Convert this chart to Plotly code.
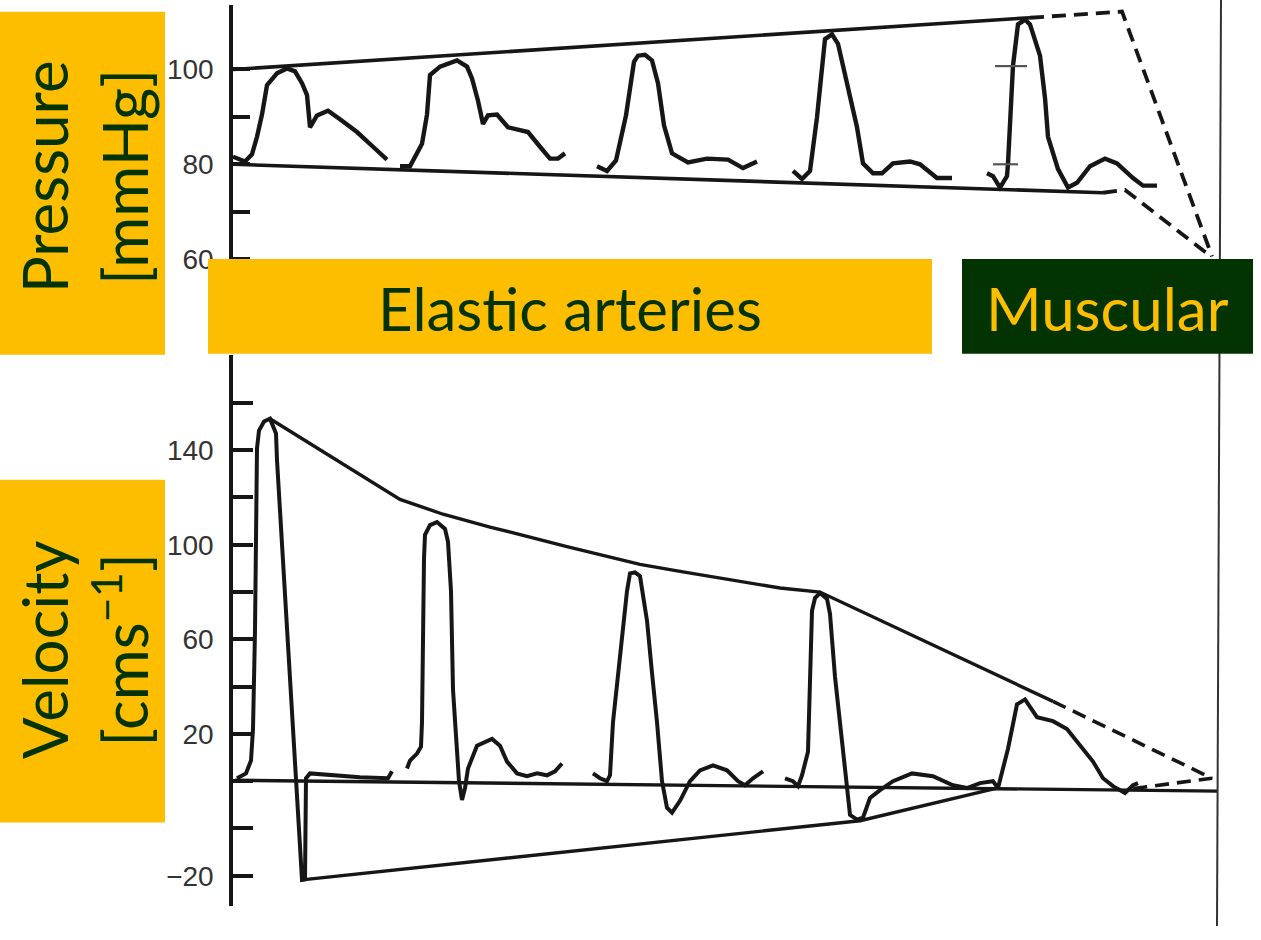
import plotly.graph_objects as go

# ---------------- data (t: arbitrary position along the record) ----------------
# Pressure [mmHg] - five pulses
p1_t = [0, 12, 19, 24, 29, 34, 44, 54, 62, 69, 74, 77, 84, 95, 107, 124, 140, 154]
p1_v = [81.6, 80.6, 82.1, 85.8, 90.5, 96.7, 99.2, 100.2, 99.6, 97.1, 94.6, 87.8, 90.3, 91.3, 89.5, 86.8, 83.7, 81.0]
p2_t = [167, 177, 189, 194, 197, 207, 224, 234, 239, 245, 250, 255, 264, 269, 275, 287, 295, 307, 317, 325, 332]
p2_v = [79.6, 79.6, 84.3, 90.5, 98.8, 100.6, 101.9, 100.6, 98.1, 93.4, 88.5, 90.3, 90.5, 89.3, 87.8, 87.2, 86.8, 83.7, 81.2, 81.2, 82.3]
p3_t = [364, 374, 383, 393, 401, 405, 412, 419, 425, 431, 439, 455, 474, 495, 510, 524]
p3_v = [79.6, 78.6, 80.8, 90.3, 101.6, 102.9, 103.1, 101.9, 97.1, 88.2, 82.3, 80.4, 81.2, 81.0, 79.2, 80.6]
p4_t = [560, 569, 577, 584, 592, 599, 605, 614, 624, 630, 640, 649, 660, 677, 687, 704, 719]
p4_v = [78.6, 76.9, 78.6, 89.9, 106.4, 107.4, 105.4, 96.7, 87.8, 80.2, 78.1, 78.1, 80.2, 80.6, 80.0, 77.1, 77.1]
p5_t = [754, 760, 767, 774, 775, 780, 785, 792, 797, 807, 812, 815, 825, 835, 844, 857, 872, 884, 900, 910, 924]
p5_v = [78.1, 77.5, 75.1, 77.5, 80.2, 100.8, 109.5, 110.5, 109.5, 102.9, 94.0, 85.8, 79.0, 75.1, 76.1, 79.6, 81.2, 80.2, 77.1, 75.5, 75.5]

# Pressure envelopes
p_up_t = [0, 797]
p_up_v = [100, 110.9]
p_up_dash_t = [797, 889, 979]
p_up_dash_v = [110.9, 112.2, 60.6]
p_lo_t = [0, 870]
p_lo_v = [80, 74.0]
p_lo_dash_t = [870, 892, 979]
p_lo_dash_v = [74.0, 74.6, 60.4]
# calibration marks on last pressure pulse
p_mark_hi_t = [762, 794]
p_mark_hi_v = [100.7, 100.7]
p_mark_lo_t = [760, 785]
p_mark_lo_v = [80, 80]

# Velocity [cm/s] - five pulses
v1_t = [4, 13, 18, 20, 22, 23, 24, 26, 31, 37, 43, 44, 57, 69, 72, 73, 77, 97, 127, 155, 159]
v1_v = [1.25, 3.3, 8.75, 22.1, 63.75, 109.6, 140.8, 148.3, 152.1, 153.3, 147.1, 135.8, 42.9, -41.7, -41.5, 1.25, 3.3, 2.5, 1.7, 1.25, 4.2]
v2_t = [174, 177, 184, 188, 189, 190, 191, 192, 197, 204, 212, 215, 218, 220, 224, 226, 229, 232, 235, 244, 259, 267, 274, 284, 294, 304, 314, 322, 329]
v2_v = [5.4, 8.75, 11.7, 14.6, 25, 66.7, 94.2, 104.2, 108.3, 109.6, 106.7, 101.25, 80.4, 38.75, 10.8, 0, -7.9, -2.9, 5.4, 15, 17.9, 15, 8.3, 3.3, 2.1, 3.3, 2.5, 4.2, 7.5]
v3_t = [360, 367, 374, 377, 380, 387, 394, 397, 402, 407, 414, 419, 424, 429, 434, 439, 447, 457, 467, 480, 494, 505, 512, 520, 530]
v3_v = [3.3, 1.25, 0, 2.5, 25, 52.5, 80.4, 87.9, 88.3, 86.7, 67.9, 45.8, 25, 0, -11.25, -13.3, -8.3, 0, 4.6, 6.7, 4.6, 0, -1.7, 1.25, 4.2]
v4_t = [552, 560, 565, 569, 575, 579, 582, 587, 594, 597, 602, 609, 614, 617, 624, 630, 637, 647, 660, 679, 700, 720, 734, 747, 760, 765]
v4_v = [1.25, 0, -2.1, 2.5, 12.5, 72.1, 77.5, 79.6, 77.1, 70.8, 44.2, 16.7, -4.2, -14.2, -16.25, -15.4, -7.1, -3.75, 0, 3.3, 2.1, -1.7, -2.9, -0.8, 0, -2.9]
v5_t = [765, 775, 784, 792, 804, 820, 834, 850, 860, 870, 880, 892, 900, 905]
v5_v = [-2.9, 13.75, 32.5, 34.6, 27.1, 25.4, 22.1, 13.75, 8.3, 1.25, -2.1, -5, -1.7, -0.8]

# Velocity envelopes and baseline
v_up_t = [37, 167, 210, 257, 334, 407, 447, 547, 587, 820]
v_up_v = [153.3, 119.2, 112.9, 107.5, 99.2, 91.7, 88.75, 81.7, 80, 33.75]
v_up_dash_t = [820, 979, 897]
v_up_dash_v = [33.75, 1.25, -3.3]
v_lo_t = [69, 627, 764]
v_lo_v = [-41.7, -16.7, -2.9]
v_base_t = [2, 985]
v_base_v = [0.4, -4.2]

# Axis ticks
p_tickvals = [100, 90, 80, 70, 60]
p_ticktext = ["100", "", "80", "", "60"]
v_tickvals = [160, 140, 120, 100, 80, 60, 40, 20, 0, -20, -40]
v_ticktext = ["", "140", "", "100", "", "60", "", "20", "", "", "\u221220"]

# ---------------- figure ----------------
W, H = 1261, 940
INK = "#161616"
ORANGE = "#FDBE00"
GREEN = "#023300"

fig = go.Figure()


def add(t, v, yaxis, width=4.0, dash=None, color=INK):
    fig.add_trace(go.Scatter(
        x=t, y=v, mode="lines", xaxis="x", yaxis=yaxis,
        line=dict(color=color, width=width, dash=dash, shape="linear"),
        hoverinfo="skip", showlegend=False))


for t, v in [(p1_t, p1_v), (p2_t, p2_v), (p3_t, p3_v), (p4_t, p4_v), (p5_t, p5_v)]:
    add(t, v, "y", width=4.4)
add(p_up_t, p_up_v, "y", width=3.6)
add(p_lo_t, p_lo_v, "y", width=3.6)
add(p_up_dash_t, p_up_dash_v, "y", width=3.8, dash="14px,8px")
add(p_lo_dash_t, p_lo_dash_v, "y", width=3.8, dash="14px,8px")
add(p_mark_hi_t, p_mark_hi_v, "y", width=2.2, color="#555555")
add(p_mark_lo_t, p_mark_lo_v, "y", width=2.2, color="#555555")

for t, v in [(v1_t, v1_v), (v2_t, v2_v), (v3_t, v3_v), (v4_t, v4_v), (v5_t, v5_v)]:
    add(t, v, "y2", width=4.0)
add(v_up_t, v_up_v, "y2", width=3.4)
add(v_up_dash_t, v_up_dash_v, "y2", width=3.6, dash="14px,8px")
add(v_lo_t, v_lo_v, "y2", width=3.4)
add(v_base_t, v_base_v, "y2", width=3.4)

x0 = 233 / W
tickfont = dict(family="Liberation Sans, Arial, sans-serif", size=28, color="#333333")

fig.update_layout(
    width=W, height=H,
    margin=dict(l=0, r=0, t=0, b=0),
    paper_bgcolor="white", plot_bgcolor="rgba(0,0,0,0)",
    xaxis=dict(domain=[x0, 1], range=[0, W - 233], visible=False, fixedrange=True),
    yaxis=dict(domain=[1 - 265 / H, 1 - 5 / H], range=[59.6, 113.6], anchor="x",
               showline=True, linewidth=3.5, linecolor=INK, showgrid=False, zeroline=False,
               ticks="inside", ticklen=17, tickwidth=3.5, tickcolor=INK,
               tickvals=p_tickvals, ticktext=p_ticktext, tickfont=tickfont,
               ticklabelstandoff=10),
    yaxis2=dict(domain=[1 - 920 / H, 1 - 360 / H], range=[-52.9, 180.4], anchor="x",
                showline=True, linewidth=3.5, linecolor=INK, showgrid=False, zeroline=False,
                ticks="inside", ticklen=20, tickwidth=3.5, tickcolor=INK,
                tickvals=v_tickvals, ticktext=v_ticktext, tickfont=tickfont,
                ticklabelstandoff=10),
)

# right-hand vertical frame line
fig.add_shape(type="line", xref="paper", yref="paper",
              x0=1221 / W, x1=1217 / W, y0=1, y1=0,
              line=dict(color="#333333", width=2), layer="above")


def box(xa, ya, xb, yb, color):
    fig.add_shape(type="rect", xref="paper", yref="paper",
                  x0=xa / W, x1=xb / W, y0=1 - yb / H, y1=1 - ya / H,
                  fillcolor=color, line=dict(width=0), layer="above")


box(0, 12, 165, 360, ORANGE)
box(0, 487, 165, 835, ORANGE)
box(208, 263, 932, 359, ORANGE)
box(962, 263, 1253, 359, GREEN)

lab_font = "Lato, Open Sans, sans-serif"


def label(cx, cy, text, color, size, angle=0):
    fig.add_annotation(x=cx / W, y=1 - cy / H, xref="paper", yref="paper",
                       xanchor="center", yanchor="middle",
                       text=text, textangle=angle, showarrow=False,
                       font=dict(family=lab_font, size=size, color=color))


label(84, 180, "Pressure<br>[mmHg]", GREEN, 62, -90)
label(84, 660, "Velocity<br>[cms<sup>\u22121</sup>]", GREEN, 62, -90)
label(570, 313, "Elastic arteries", GREEN, 60)
label(1107, 313, "Muscular", ORANGE, 60)

fig.write_html("out.html")
